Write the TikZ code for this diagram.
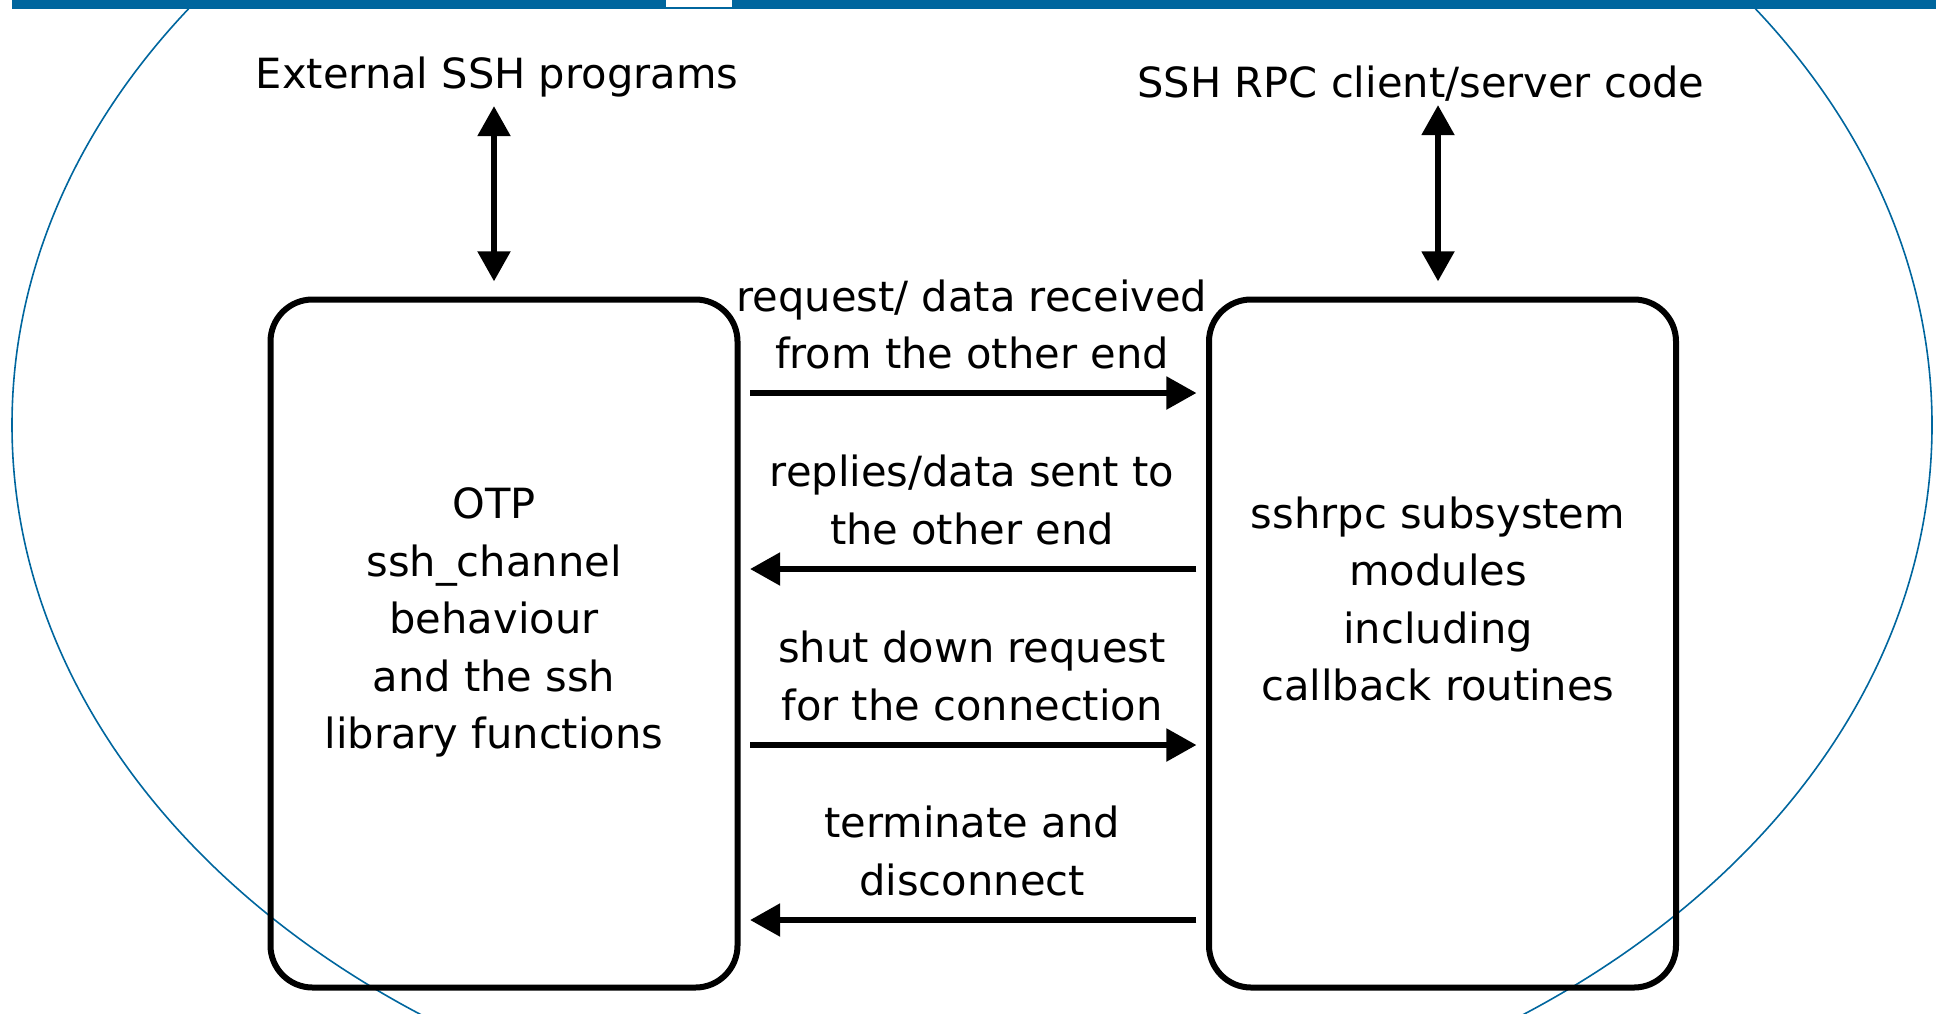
\documentclass[tikz,border=0pt]{standalone}
\usepackage{fontspec}
\setmainfont{DejaVu Sans}
\usepackage{tikz}
\usetikzlibrary{arrows.meta}
\definecolor{slideblue}{RGB}{0,102,158}
\tikzset{chanbox/.style={draw, line width=3pt, rounded corners=21pt,
        minimum width=233.5pt, minimum height=344pt, inner sep=0pt},
    lbl/.style={align=center, inner sep=0pt,
        font=\fontsize{20.8}{28.75}\selectfont,
        execute at begin node=\strut, execute at end node=\strut},
    msg/.style={line width=2.7pt, -{Triangle[length=15pt,width=16pt]},
        shorten <=4.8pt, shorten >=4.8pt},
    duplex/.style={line width=2.7pt,
        {Triangle[length=15pt,width=16pt]}-{Triangle[length=15pt,width=16pt]},
        shorten >=7.6pt}}

\begin{document}
\begin{tikzpicture}[x=0.5pt,y=-0.5pt]
    \useasboundingbox (0,0) rectangle (1936,1013);
    \clip (0,0) rectangle (1936,1013);
    \draw[slideblue, line width=0.8pt] (972,425) ellipse [x radius=480pt, y radius=360pt];
    \fill[slideblue] (12,0) rectangle (1936,9);
    \fill[white] (666,0) rectangle (732,7);

    \node[chanbox] (otp) at (504,643.5) {};
    \node[chanbox] (rpc) at (1442.5,643.5) {};
    \node[lbl] (otptxt) at (494,627) {OTP\\ssh\_channel\\behaviour\\and the ssh\\library functions};
    \node[lbl] (rpctxt) at (1438,607.5) {sshrpc subsystem\\modules\\including\\callback routines};

    \node[lbl] (ext) at (497,77) {External SSH programs};
    \node[lbl] (rpcapi) at (1421,86) {SSH RPC client/server code};
    \draw[duplex] (ext.south -| otptxt) -- (otp.north -| otptxt);
    \draw[duplex, shorten <=-5pt] (rpcapi.south -| rpctxt) -- (rpc.north -| rpctxt);

    \node[lbl] (reqlbl) at (972,333) {request/ data received\\from the other end};
    \node[lbl] (replbl) at (972,508.5) {replies/data sent to\\the other end};
    \node[lbl] (shutlbl) at (972,684.5) {shut down request\\for the connection};
    \node[lbl] (termlbl) at (972,859.5) {terminate and\\disconnect};
    \draw[msg] (otp.east |- 0,393) -- (rpc.west |- 0,393);
    \draw[msg] (rpc.west |- 0,569) -- (otp.east |- 0,569);
    \draw[msg] (otp.east |- 0,745) -- (rpc.west |- 0,745);
    \draw[msg] (rpc.west |- 0,920) -- (otp.east |- 0,920);
\end{tikzpicture}
\end{document}
